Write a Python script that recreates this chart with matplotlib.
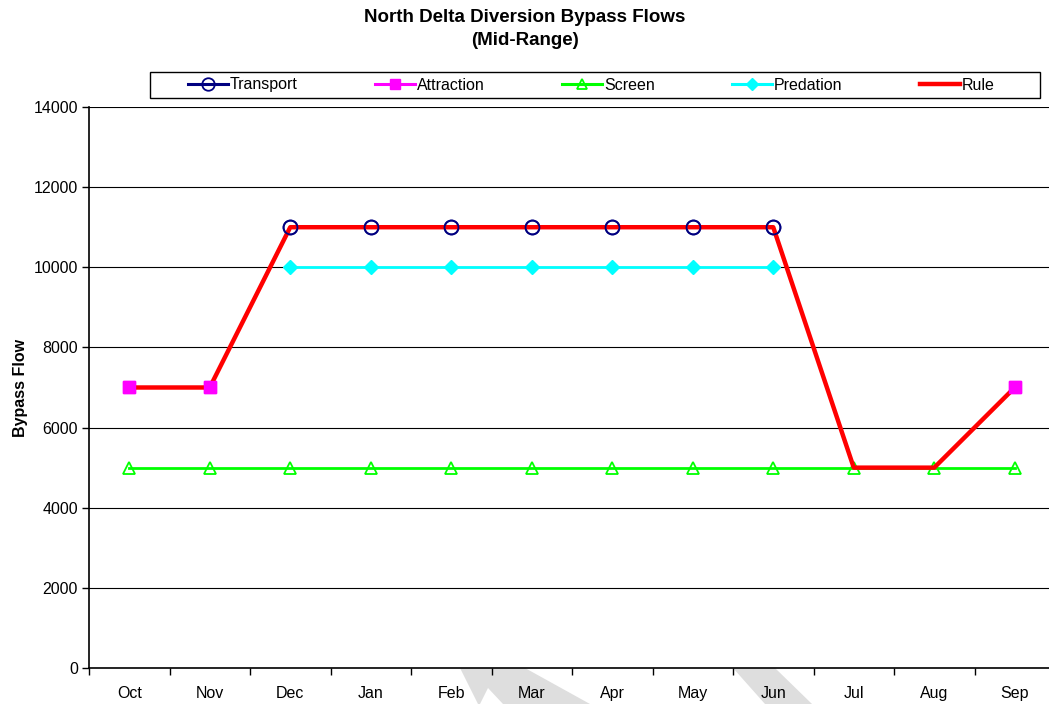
import numpy as np
import matplotlib.pyplot as plt
from matplotlib.patches import Polygon, Rectangle

plt.rcParams['font.family'] = ['Liberation Sans', 'DejaVu Sans']

months = ['Oct', 'Nov', 'Dec', 'Jan', 'Feb', 'Mar', 'Apr', 'May', 'Jun', 'Jul', 'Aug', 'Sep']
nan = np.nan
transport = [nan, nan, 11000, 11000, 11000, 11000, 11000, 11000, 11000, nan, nan, nan]
attraction = [7000, 7000, nan, nan, nan, nan, nan, nan, nan, nan, nan, 7000]
screen = [5000] * 12
predation = [nan, nan, 10000, 10000, 10000, 10000, 10000, 10000, 10000, nan, nan, nan]
rule = [7000, 7000, 11000, 11000, 11000, 11000, 11000, 11000, 11000, 5000, 5000, 7000]

W, H = 1049, 704
fig = plt.figure(figsize=(W / 100, H / 100), dpi=100)

# faint watermark pieces peeking out below the plot area
def px(pts):
    return [(x / W, 1 - y / H) for x, y in pts]

wm = '#dedede'
fig.patches.append(Polygon(px([(460, 668), (525, 668), (590, 704), (503, 704), (488, 688), (480, 704), (478, 704)]),
                           closed=True, transform=fig.transFigure, fc=wm, ec='none', zorder=-5))
fig.patches.append(Polygon(px([(733, 668), (775, 668), (812, 704), (765, 704)]),
                           closed=True, transform=fig.transFigure, fc=wm, ec='none', zorder=-5))
# legend frame
fig.patches.append(Rectangle((150 / W, 1 - 98 / H), 890 / W, 26 / H, transform=fig.transFigure,
                             fc='white', ec='black', lw=1, zorder=-1))

ax = fig.add_axes([89 / W, 1 - 668 / H, 966 / W, 561 / H])
ax.set_facecolor('white')
x = np.arange(len(months))

ax.plot(x, transport, color='#000080', lw=1.5, marker='o', ms=10, mfc='none', mec='#000080', mew=1.3,
        label='Transport', zorder=2)
ax.plot(x, attraction, color='#ff00ff', lw=1.5, marker='s', ms=8.5, mfc='#ff00ff', mec='#ff00ff',
        label='Attraction', zorder=2)
ax.plot(x, screen, color='#00ff00', lw=2, marker='^', ms=8, mfc='none', mec='#00ff00', mew=1.3,
        label='Screen', zorder=2)
ax.plot(x, predation, color='#00ffff', lw=2, marker='D', ms=7, mfc='#00ffff', mec='#00ffff',
        label='Predation', zorder=2)
ax.plot(x, rule, color='#ff0000', lw=3.2, label='Rule', zorder=3)
# markers back on top of the rule line
ax.plot(x, transport, ls='none', marker='o', ms=10, mfc='none', mec='#000080', mew=1.3, zorder=4)
ax.plot(x, attraction, ls='none', marker='s', ms=8.5, mfc='#ff00ff', mec='#ff00ff', zorder=4)

ax.set_xlim(-0.5, 11.5)
ax.set_ylim(0, 14000)
ax.set_yticks(np.arange(0, 14001, 2000))
ax.yaxis.grid(True, color='black', lw=0.8)
ax.set_axisbelow(True)

ax.set_xticks(np.arange(-0.5, 12, 1))
ax.set_xticklabels([])
ax.set_xticks(x, minor=True)
ax.set_xticklabels(months, minor=True)
ax.tick_params(axis='x', which='minor', length=0, pad=13, labelsize=11.5)
ax.tick_params(axis='x', which='major', direction='out', length=5, width=1)
ax.tick_params(axis='y', direction='out', length=5, width=1, labelsize=11.5, pad=3)

ax.spines['top'].set_visible(False)
ax.spines['right'].set_visible(False)
ax.spines['left'].set_linewidth(1.2)
ax.spines['bottom'].set_linewidth(1.2)

ax.set_ylabel('Bypass Flow', fontsize=11.5, fontweight='bold', labelpad=4)

fig.text(0.5, 1 - 29 / H, 'North Delta Diversion Bypass Flows\n(Mid-Range)', ha='center', va='center',
         fontsize=13.5, fontweight='bold', linespacing=1.45)

leg = fig.legend(loc='center left', bbox_to_anchor=(188 / W, 1 - 85 / H), ncol=5, frameon=False,
                 fontsize=11.5, handlelength=2.5, handletextpad=0.12, columnspacing=4.85,
                 markerscale=0.9, borderpad=0, borderaxespad=0)
for h in leg.legend_handles:
    h.set_linewidth(max(h.get_linewidth(), 2.2))

fig.savefig('out.png', dpi=100)
